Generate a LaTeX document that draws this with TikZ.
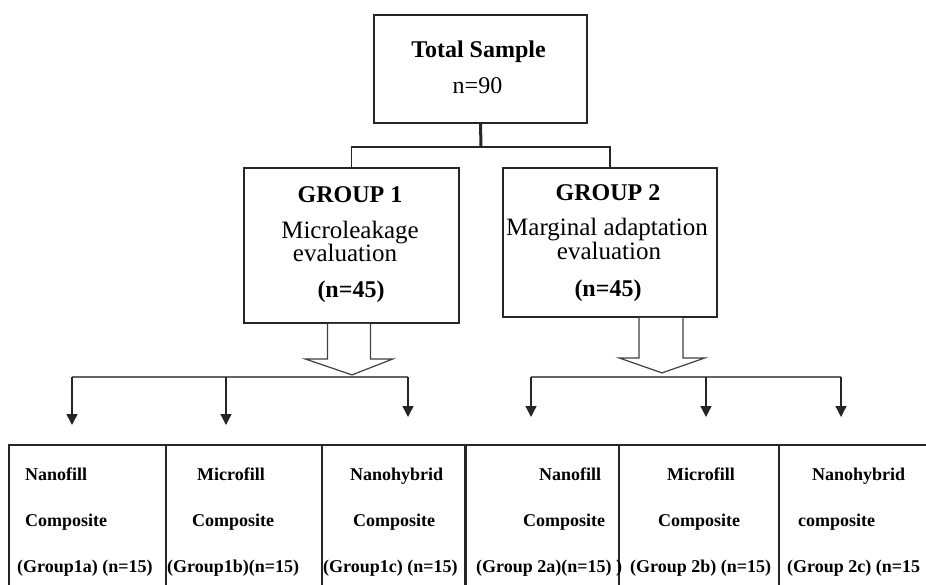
\documentclass[tikz,border=0pt]{standalone}
\usepackage{fontspec}
\setmainfont{Liberation Serif}
\usetikzlibrary{arrows.meta}
\begin{document}
\begin{tikzpicture}[x=1pt,y=-1pt,
  box/.style={draw=black!85,line width=1.8pt,fill=white,inner sep=0pt},
  cell/.style={draw=black!85,line width=1.4pt,inner sep=0pt,minimum height=160pt},
  bigb/.style={font=\fontsize{24}{28}\selectfont\bfseries},
  big/.style={font=\fontsize{24}{28}\selectfont},
  mid/.style={font=\fontsize{25}{29}\selectfont},
  small/.style={font=\fontsize{18}{20}\selectfont\bfseries,anchor=base west,inner sep=0pt},
  ctext/.style={anchor=base,inner sep=0pt},
  link/.style={line width=1.8pt,black!85},
  arr/.style={line width=1.3pt,black!85,-{Triangle[width=11pt,length=11pt]}},
  branch/.style={line width=1.8pt,black!60},
  blockarrow/.style={draw=black!75,line width=1.2pt,fill=white,line join=miter}]
\useasboundingbox (0,0) rectangle (926,585);
\clip (0,0) rectangle (926,585);

% top box
\node[box,minimum width=213pt,minimum height=108pt] (total) at (480.5,69) {};
\node[ctext,bigb] (ts) at (478.5,58) {Total Sample};
\node[ctext,big] (tn) at (477.5,94) {n=90};

% group boxes
\node[box,minimum width=215pt,minimum height=155pt] (g1) at (351.5,245.5) {};
\node[box,minimum width=214pt,minimum height=149pt] (g2) at (610,242.5) {};

\node[ctext,bigb] (g1a) at (350,203) {GROUP 1};
\node[ctext,mid] (g1b) at (350,239) {Microleakage};
\node[ctext,mid] (g1c) at (345,262) {evaluation};
\node[ctext,bigb] (g1d) at (351,298) {(n=45)};

\node[ctext,bigb] (g2a) at (608,201) {GROUP 2};
\node[ctext,mid] (g2b) at (607,236) {Marginal adaptation};
\node[ctext,mid] (g2c) at (609,260) {evaluation};
\node[ctext,bigb] (g2d) at (608,296) {(n=45)};

% tree connectors
\coordinate (j) at (481,147);
\draw[link,line width=3pt] (total.south) -- (j);
\draw[link] (g1.north) |- (j) -| (g2.north);

% block arrows
\draw[blockarrow] ([xshift=-24pt]g1.south) -- ++(0,35) -- ++(-22.5,0)
  -- ([xshift=0.5pt,yshift=-51pt]g1.south) -- ([xshift=41.5pt,yshift=-35pt]g1.south)
  -- ([xshift=19pt,yshift=-35pt]g1.south) -- ([xshift=19pt]g1.south);
\draw[blockarrow] ([xshift=29pt]g2.south) -- ++(0,40) -- ++(-20,0)
  -- ([xshift=52pt,yshift=-55pt]g2.south) -- ([xshift=95pt,yshift=-40pt]g2.south)
  -- ([xshift=73pt,yshift=-40pt]g2.south) -- ([xshift=73pt]g2.south);

% bottom cells
\node[cell,minimum width=157pt] (c1) at (87.5,525) {};
\node[cell,minimum width=156pt] (c2) at (244,525) {};
\node[cell,minimum width=143pt] (c3) at (393.5,525) {};
\node[cell,minimum width=154pt] (c4) at (542,525) {};
\node[cell,minimum width=160pt] (c5) at (699,525) {};
\node[cell,minimum width=158pt] (c6) at (858,525) {};
\draw[line width=3.5pt,black!85] (c3.north east) -- (c3.south east);

% branch arrows
\coordinate (bl) at (0,377);
\coordinate (a1) at (72,425);
\coordinate (a2) at (226,425);
\coordinate (a3) at (408,417);
\coordinate (a4) at (531,417);
\coordinate (a5) at (706,417);
\coordinate (a6) at (841,417);
\draw[branch] (a1 |- bl) -- (a3 |- bl);
\draw[branch] (a4 |- bl) -- (a6 |- bl);
\foreach \a in {a1,a2,a3,a4,a5,a6} \draw[arr] (\a |- bl) -- (\a);

% cell texts
\node[small] (t11) at (25,480) {Nanofill};
\node[small] (t12) at (25,526) {Composite};
\node[small] (t13) at (17,572) {(Group1a) (n=15)};
\node[small] (t21) at (197,480) {Microfill};
\node[small] (t22) at (192,526) {Composite};
\node[small] (t23) at (167,572) {(Group1b)(n=15)};
\node[small] (t31) at (350,480) {Nanohybrid};
\node[small] (t32) at (353,526) {Composite};
\node[small] (t33) at (323,572) {(Group1c) (n=15)};
\node[small] (t41) at (539,480) {Nanofill};
\node[small] (t42) at (523,526) {Composite};
\node[small] (t43) at (476,572) {(Group 2a)(n=15) )};
\node[small] (t51) at (667,480) {Microfill};
\node[small] (t52) at (658,526) {Composite};
\node[small] (t53) at (630,572) {(Group 2b) (n=15)};
\node[small] (t61) at (812,480) {Nanohybrid};
\node[small] (t62) at (798,526) {composite};
\node[small] (t63) at (787,572) {(Group 2c) (n=15};
\end{tikzpicture}
\end{document}
